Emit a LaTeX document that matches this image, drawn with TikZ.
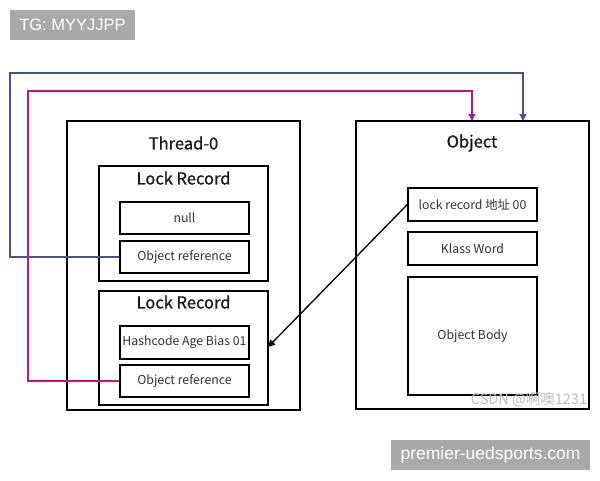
\documentclass[tikz,border=0pt]{standalone}
\usepackage{fontspec}
\setmainfont{Noto Sans CJK SC}
\newfontfamily\ttlfont[FakeBold=0.9]{Noto Sans CJK SC}
\newfontfamily\wmfont{Liberation Sans}
\usetikzlibrary{arrows.meta}
\definecolor{refblue}{HTML}{4A4F9C}
\definecolor{refmag}{HTML}{C8146E}
\definecolor{tagbg}{HTML}{A9A9A9}
\begin{document}
\begin{tikzpicture}[x=1pt,y=-1pt,
  box/.style={draw=black,line width=1.4pt,fill=white,inner sep=0pt},
  cell/.style={draw=black,line width=1.3pt,fill=white,inner sep=0pt,font=\fontsize{12.3}{14}\selectfont,text=black!80},
  ttl/.style={font=\ttlfont\fontsize{16.5}{19}\selectfont,text=black!90,inner sep=0pt},
  link/.style={line width=1.2pt,-{Triangle[length=7pt,width=7pt]}},
  tag/.style={fill=tagbg,text=white,inner sep=0pt}]
\useasboundingbox (0,0) rectangle (600,480);
% watermark tags
\node[tag,minimum width=125pt,minimum height=30pt,font=\wmfont\fontsize{16.5}{18}\selectfont] (tg) at (72.5,25) {TG: MYYJJPP};
\node[tag,minimum width=199pt,minimum height=30pt,font=\wmfont\fontsize{17.5}{19}\selectfont] (site) at (490.5,455) {premier-uedsports.com};
% Thread-0
\draw[box] (67,121) rectangle (300,410);
\node[ttl] (thr) at (183.5,143) {Thread-0};
\draw[box] (99,166) rectangle (268,281);
\node[ttl] (lr1) at (183.5,178) {Lock Record};
\node[cell,minimum width=129pt,minimum height=32pt] (null) at (184.5,218) {null};
\node[cell,minimum width=129pt,minimum height=32pt] (ref1) at (184.5,257) {Object reference};
\draw[box] (99,291) rectangle (268,405);
\node[ttl] (lr2) at (183.5,302) {Lock Record};
\node[cell,minimum width=129pt,minimum height=33pt] (hash) at (184.5,342.5) {Hashcode Age Bias 01};
\node[cell,minimum width=129pt,minimum height=32pt] (ref2) at (184.5,381) {Object reference};
\coordinate (lr2r) at (268,347);
% Object
\draw[box] (356,121) rectangle (589,409);
\coordinate (objtop) at (472,121);
\coordinate (objtop2) at (523,121);
\node[ttl] (objt) at (472,143) {Object};
\node[cell,minimum width=129pt,minimum height=33pt] (lrec) at (472.5,204.5) {lock record 地址 00};
\node[cell,minimum width=129pt,minimum height=33pt] (klass) at (472.5,248.5) {Klass Word};
\node[cell,minimum width=129pt,minimum height=118pt] (body) at (472.5,336) {Object Body};
\node[inner sep=0pt,text=black!25,font=\fontsize{14.5}{16}\selectfont] (wm) at (529,400) {CSDN @啊噢1231};
% connectors
\draw[link,draw=refblue] (ref1.west) -- (10,257) -- (10,73) -- (523,73) -- (objtop2);
\draw[link,draw=refmag] (ref2.west) -- (28,381) -- (28,91) -- (472,91) -- (objtop);
\draw[link,draw=black,line width=1.3pt] (lrec.west) -- (lr2r);
\end{tikzpicture}
\end{document}
